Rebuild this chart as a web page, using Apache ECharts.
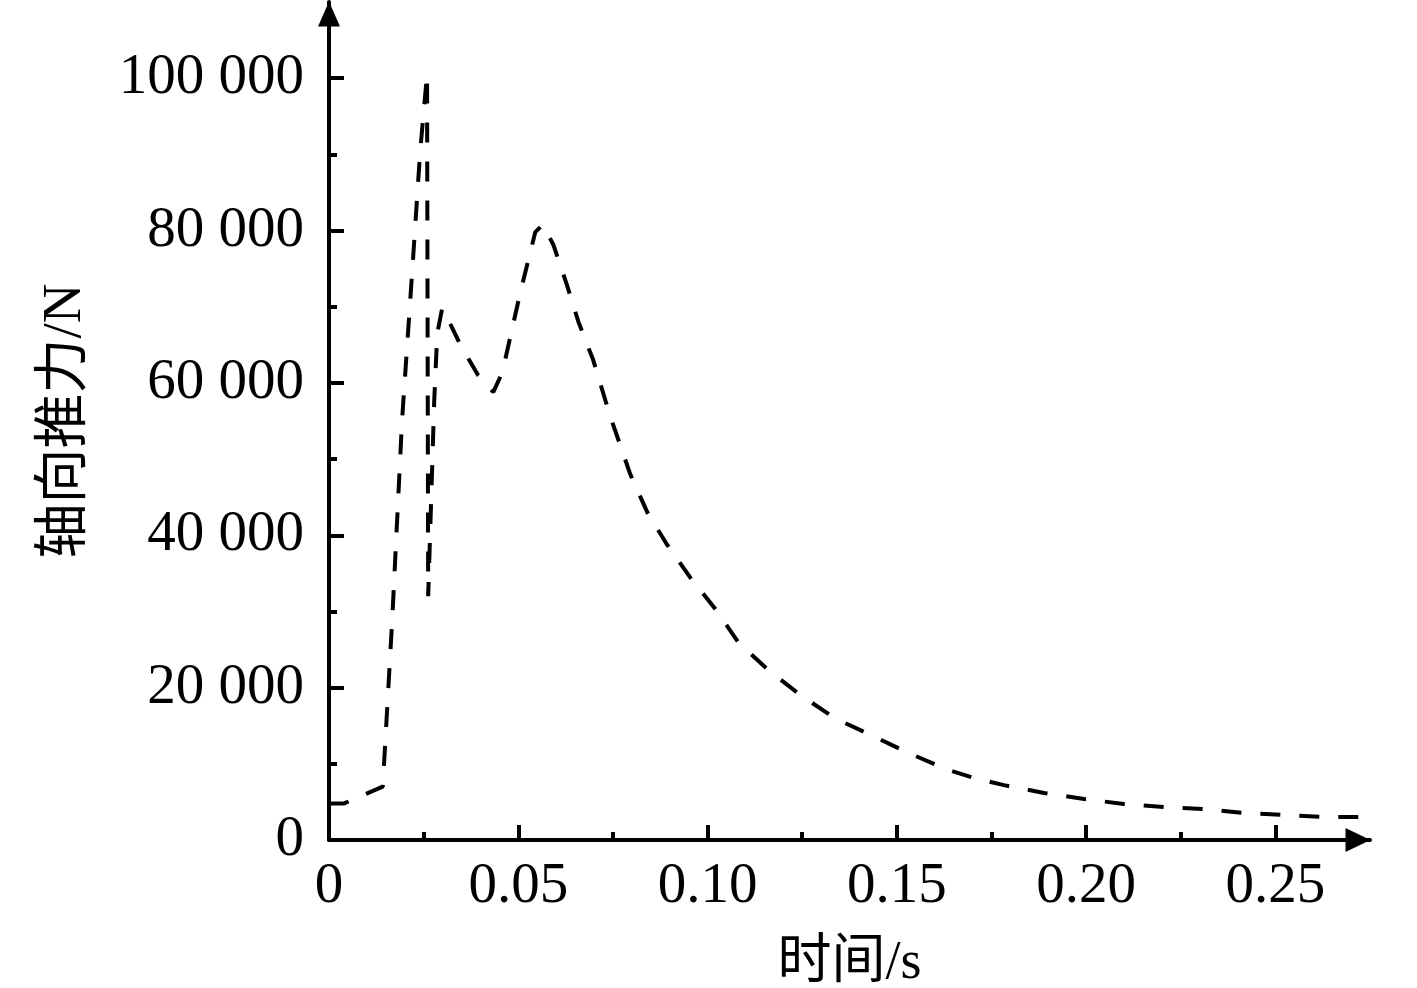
<!DOCTYPE html>
<html>
<head>
<meta charset="utf-8">
<script src="https://cdn.jsdelivr.net/npm/echarts@6/dist/echarts.min.js"></script>
<style>html,body{margin:0;padding:0;background:#fff;}#c{width:1417px;height:988px;}</style>
</head>
<body>
<div id="c"></div>
<script>
// time (s)
const timeValues = [0, 0.004, 0.0142, 0.0146, 0.0167, 0.0193, 0.0220, 0.0241, 0.0259, 0.0262, 0.0278, 0.0286, 0.0299, 0.0312, 0.0347, 0.0368, 0.0394, 0.0434, 0.0458, 0.0505, 0.0545, 0.0565, 0.0593, 0.0627, 0.0659, 0.0698, 0.0743, 0.0796, 0.0841, 0.0894, 0.0955, 0.1021, 0.1082, 0.1161, 0.1246, 0.1339, 0.1437, 0.1532, 0.1630, 0.1700, 0.1783, 0.1889, 0.1995, 0.2100, 0.2206, 0.2312, 0.2418, 0.2524, 0.2630, 0.2794];
// axial thrust (N)
const thrustValues = [4800, 4800, 7000, 10500, 28900, 55100, 74800, 90500, 100500, 32000, 57700, 66500, 69800, 68600, 65000, 63200, 61000, 58800, 61400, 71800, 79800, 80800, 78100, 73100, 68000, 63000, 55600, 48000, 43000, 38700, 34400, 30300, 25900, 22300, 19000, 15900, 13650, 11400, 9300, 8200, 7200, 6170, 5380, 4720, 4330, 4070, 3540, 3280, 3020, 3020];
const xMajorTicks = [0, 0.05, 0.10, 0.15, 0.20, 0.25];
const xMinorTicks = [0.025, 0.075, 0.125, 0.175, 0.225];
const yMajorTicks = [0, 20000, 40000, 60000, 80000, 100000];
const yMinorTicks = [10000, 30000, 50000, 70000, 90000];
const xName = '时间/s';
const yName = '轴向推力/N';

const FONT = "'Liberation Serif', 'Times New Roman', 'Noto Sans CJK SC', serif";
const chart = echarts.init(document.getElementById('c'), null, {renderer: 'canvas'});
const lineW = 4;
const seriesData = timeValues.map((t, i) => [t, thrustValues[i]]);
const fmtX = v => v === 0 ? '0' : v.toFixed(2);
const fmtY = v => v === 0 ? '0' : String(Math.round(v)).replace(/\B(?=(\d{3})+(?!\d))/g, ' ');

chart.setOption({
  backgroundColor: '#fff',
  animation: false,
  grid: {left: 329, right: 47, top: 2, bottom: 148, containLabel: false, outerBoundsMode: 'none'},
  xAxis: [{
    type: 'value', min: 0, max: 0.275,
    name: xName, nameLocation: 'middle', nameGap: 97,
    nameTextStyle: {fontFamily: FONT, fontSize: 54, color: '#000'},
    axisLine: {show: true, symbol: ['none', 'triangle'], symbolSize: [24, 25], symbolOffset: [0, -12], lineStyle: {color: '#000', width: lineW}},
    axisTick: {show: true, inside: true, length: 15, customValues: xMajorTicks, lineStyle: {color: '#000', width: lineW}},
    axisLabel: {show: true, customValues: xMajorTicks, formatter: fmtX, margin: 19, fontFamily: FONT, fontSize: 57, color: '#000'},
    splitLine: {show: false}
  }, {
    type: 'value', min: 0, max: 0.275, position: 'bottom',
    axisLine: {show: false},
    axisTick: {show: true, inside: true, length: 8, customValues: xMinorTicks, lineStyle: {color: '#000', width: lineW}},
    axisLabel: {show: false},
    splitLine: {show: false}
  }],
  yAxis: [{
    type: 'value', min: 0, max: 110000,
    name: yName, nameLocation: 'middle', nameGap: 236, nameRotate: 90,
    nameTextStyle: {fontFamily: FONT, fontSize: 55, color: '#000'},
    axisLine: {show: true, symbol: ['none', 'triangle'], symbolSize: [22, 25], symbolOffset: [0, -12], lineStyle: {color: '#000', width: lineW}},
    axisTick: {show: true, inside: true, length: 15, customValues: yMajorTicks, lineStyle: {color: '#000', width: lineW}},
    axisLabel: {show: true, customValues: yMajorTicks, formatter: fmtY, margin: 25, fontFamily: FONT, fontSize: 57, color: '#000'},
    splitLine: {show: false}
  }, {
    type: 'value', min: 0, max: 110000, position: 'left',
    axisLine: {show: false},
    axisTick: {show: true, inside: true, length: 8, customValues: yMinorTicks, lineStyle: {color: '#000', width: lineW}},
    axisLabel: {show: false},
    splitLine: {show: false}
  }],
  series: [{
    type: 'line', xAxisIndex: 0, yAxisIndex: 0,
    data: seriesData, showSymbol: false, clip: false, smooth: false,
    lineStyle: {color: '#000', width: 4, type: [20, 19]}
  }]
});
</script>
</body>
</html>
